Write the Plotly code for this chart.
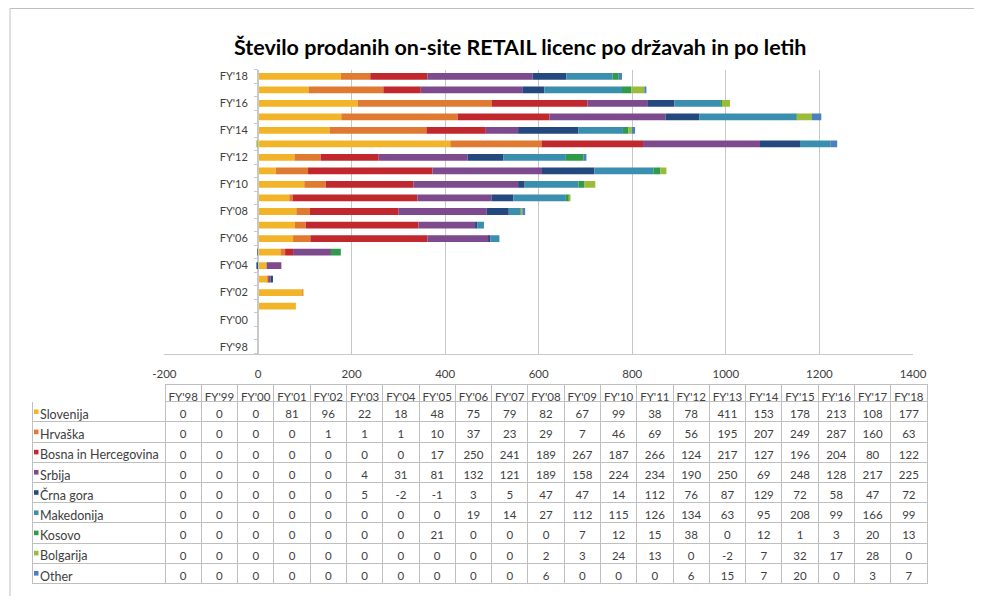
import plotly.graph_objects as go

years = ["FY'98", "FY'99", "FY'00", "FY'01", "FY'02", "FY'03", "FY'04", "FY'05", "FY'06", "FY'07",
         "FY'08", "FY'09", "FY'10", "FY'11", "FY'12", "FY'13", "FY'14", "FY'15", "FY'16", "FY'17", "FY'18"]

series_names = ["Slovenija", "Hrvaška", "Bosna in Hercegovina", "Srbija", "Črna gora",
                "Makedonija", "Kosovo", "Bolgarija", "Other"]

slovenija = [0, 0, 0, 81, 96, 22, 18, 48, 75, 79, 82, 67, 99, 38, 78, 411, 153, 178, 213, 108, 177]
hrvaska = [0, 0, 0, 0, 1, 1, 1, 10, 37, 23, 29, 7, 46, 69, 56, 195, 207, 249, 287, 160, 63]
bosna = [0, 0, 0, 0, 0, 0, 0, 17, 250, 241, 189, 267, 187, 266, 124, 217, 127, 196, 204, 80, 122]
srbija = [0, 0, 0, 0, 0, 4, 31, 81, 132, 121, 189, 158, 224, 234, 190, 250, 69, 248, 128, 217, 225]
crna_gora = [0, 0, 0, 0, 0, 5, -2, -1, 3, 5, 47, 47, 14, 112, 76, 87, 129, 72, 58, 47, 72]
makedonija = [0, 0, 0, 0, 0, 0, 0, 0, 19, 14, 27, 112, 115, 126, 134, 63, 95, 208, 99, 166, 99]
kosovo = [0, 0, 0, 0, 0, 0, 0, 21, 0, 0, 0, 7, 12, 15, 38, 0, 12, 1, 3, 20, 13]
bolgarija = [0, 0, 0, 0, 0, 0, 0, 0, 0, 0, 2, 3, 24, 13, 0, -2, 7, 32, 17, 28, 0]
other = [0, 0, 0, 0, 0, 0, 0, 0, 0, 0, 6, 0, 0, 0, 6, 15, 7, 20, 0, 3, 7]

series_values = [slovenija, hrvaska, bosna, srbija, crna_gora, makedonija, kosovo, bolgarija, other]
colors = ["#F2B52A", "#E07A30", "#C0282E", "#7E4A8E", "#23497E",
          "#3A8FAE", "#2E9A4A", "#9BBB3B", "#4A7FC0"]

x_ticks = [-200, 0, 200, 400, 600, 800, 1000, 1200, 1400]

# page has an 8px body margin: figure is sized so page fills the 982x604 window
OFF = 8
W, H = 982 - 2 * OFF, 604 - 2 * OFF
FONT = "Lato, 'Open Sans', sans-serif"
TXT = "#404040"
GRID = "#C8C8C8"


def fx(p):
    return (p - OFF) / W


def fy(p):
    return 1 - (p - OFF) / H


fig = go.Figure()

ypos = list(range(len(years)))
for name, vals, col in zip(series_names, series_values, colors):
    fig.add_trace(go.Bar(
        y=ypos, x=vals, name=name, orientation="h",
        marker=dict(color=col, line=dict(width=0)),
        showlegend=False,
    ))

# plot area geometry (target pixels in the window)
x_left, x_right = 164.4, 913.0
y_top, y_bot = 69.5, 353.5
zero_px = x_left + (0 - x_ticks[0]) / (x_ticks[-1] - x_ticks[0]) * (x_right - x_left)

fig.update_layout(
    barmode="relative",
    bargap=0.5,
    width=W, height=H,
    autosize=False,
    margin=dict(l=0, r=0, t=0, b=0, pad=0),
    paper_bgcolor="white",
    plot_bgcolor="white",
    font=dict(family=FONT, color=TXT),
    xaxis=dict(
        domain=[fx(x_left), fx(x_right)],
        range=[x_ticks[0], x_ticks[-1]],
        tickvals=x_ticks,
        ticktext=[str(v) for v in x_ticks],
        showgrid=True, gridcolor=GRID, gridwidth=1,
        zeroline=False,
        showline=True, linecolor=GRID, linewidth=1,
        ticks="", tickfont=dict(size=11.5, color=TXT),
        ticklabelstandoff=10,
        anchor="y",
        automargin=False,
        fixedrange=True,
    ),
    yaxis=dict(
        domain=[fy(y_bot), fy(y_top)],
        range=[-0.5, len(years) - 0.5],
        tickvals=ypos[::2],
        ticktext=years[::2],
        anchor="free",
        position=fx(zero_px),
        showline=True, linecolor=GRID, linewidth=1,
        showgrid=False, zeroline=False,
        ticks="outside", ticklen=0, tickcolor=GRID,
        minor=dict(tickvals=[i - 0.5 for i in range(len(years) + 1)],
                   ticks="outside", ticklen=4, tickcolor=GRID, tickwidth=1, showgrid=False),
        tickfont=dict(size=11, color=TXT),
        ticklabelstandoff=8,
        automargin=False,
        fixedrange=True,
    ),
)

# title
fig.add_annotation(
    x=fx(520), y=fy(47), xref="paper", yref="paper",
    text="<b>Število prodanih on-site RETAIL licenc po državah in po letih</b>",
    showarrow=False, xanchor="center", yanchor="middle",
    font=dict(family=FONT, size=21.5, color="#000000"),
)

# outer frame
fig.add_shape(type="rect", xref="paper", yref="paper",
              x0=fx(10), x1=1.05, y0=-0.05, y1=fy(8.5),
              line=dict(color="#BFBFBF", width=1), fillcolor="rgba(0,0,0,0)", layer="below")

# data table
tbl_left, tbl_right = 32, 927
tbl_top = 384
hdr_h, row_h = 17.6, 20.2
tbl_bot = tbl_top + hdr_h + row_h * len(series_names)
first_w = 133
other_w = (tbl_right - tbl_left - first_w) / len(years)

row_labels = [n.replace(" ", "\u00a0") for n in series_names]
columns = [row_labels] + [[vals[i] for vals in series_values] for i in range(len(years))]

fig.add_trace(go.Table(
    domain=dict(x=[fx(tbl_left), fx(tbl_right)], y=[fy(tbl_bot + 1), fy(tbl_top)]),
    columnwidth=[first_w] + [other_w] * len(years),
    header=dict(
        values=[""] + years,
        height=hdr_h,
        align="center",
        fill=dict(color="white"),
        line=dict(color=["rgba(0,0,0,0)"] + ["#BFBFBF"] * len(years), width=1),
        font=dict(family=FONT, size=11.5, color=TXT),
    ),
    cells=dict(
        values=columns,
        height=row_h,
        align=["left"] + ["center"] * len(years),
        fill=dict(color="white"),
        line=dict(color="#BFBFBF", width=1),
        font=dict(family=FONT, size=[12.5] + [11.5] * len(years), color=TXT),
    ),
))

# legend keys (small coloured squares) in the row-label column
for i, col in enumerate(colors):
    cy = tbl_top + hdr_h + row_h * i + row_h / 2
    fig.add_shape(type="rect", xref="paper", yref="paper",
                  x0=fx(34), x1=fx(38.5), y0=fy(cy + 2.3), y1=fy(cy - 2.3),
                  line=dict(width=0), fillcolor=col, layer="above")

fig.write_html("out.html")
